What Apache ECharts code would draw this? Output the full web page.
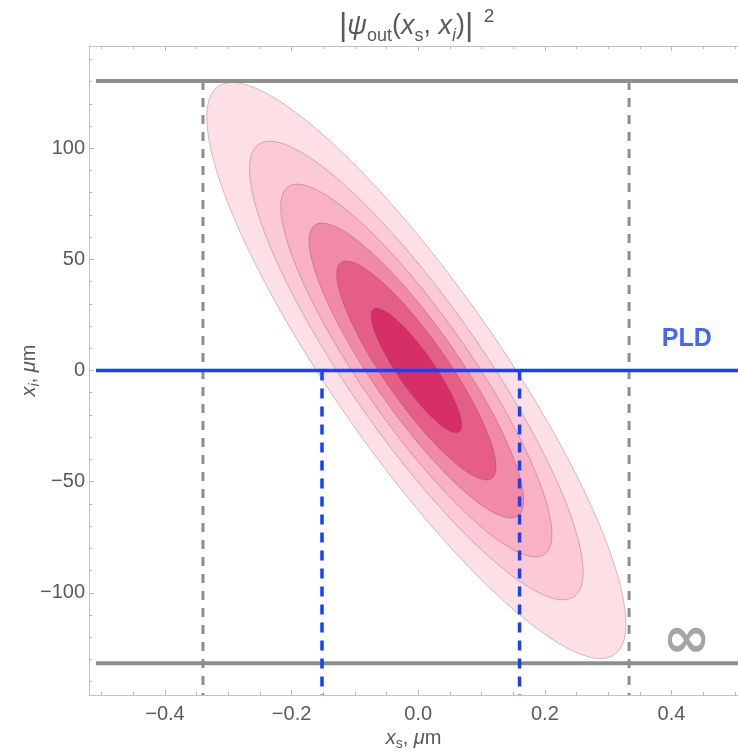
<!DOCTYPE html>
<html>
<head>
<meta charset="utf-8">
<script src="https://cdn.jsdelivr.net/npm/echarts@6.0.0/dist/echarts.min.js"></script>
<style>
  html, body { margin: 0; padding: 0; background: #fff; }
  #chart { width: 738px; height: 756px; }
</style>
</head>
<body>
<div id="chart"></div>
<script>
// axes
const xMin = -0.52, xMax = 0.505
const yMin = -146, yMax = 146
const xMajor = [-0.4, -0.2, 0, 0.2, 0.4]
const xMinor = [-0.5, -0.45, -0.35, -0.3, -0.25, -0.15, -0.1, -0.05, 0.05, 0.1, 0.15, 0.25, 0.3, 0.35, 0.45, 0.5]
const yMajor = [-100, -50, 0, 50, 100]
const yMinor = [-140, -130, -120, -110, -90, -80, -70, -60, -40, -30, -20, -10,
  10, 20, 30, 40, 60, 70, 80, 90, 110, 120, 130, 140]

// |psi_out|^2 contours: centre, outer contour extents (um),
// half-chord along x_i = 0, and the relative size of each nested contour
const centre = [-0.003, 0]
const outerHalfX = 0.331
const outerHalfY = 129.6
const outerChordX = 0.158
const contourScale = [1, 0.796, 0.647, 0.512, 0.38, 0.216]
const contourColors = ['#fde0e6', '#fccad6', '#f9b1c4', '#f08aa6', '#e45e88', '#d62f67']

// guide lines
const lineStartX = -0.509
const grayLineY = [130.3, -131.7]
const grayDashX = [-0.34, 0.333]
const pldY = 0
const pldDashX = [-0.152, 0.16]
const pldLabel = [0.424, 14]
const infLabel = [0.424, -122]

const gray = '#8e8e8e'
const blue = '#1440ff'
const textColor = '#5a5a5a'
const font = '"Liberation Sans", Arial, sans-serif'

const chart = echarts.init(document.getElementById('chart'))

const phase = Math.PI - Math.asin(outerChordX / outerHalfX)

function minusSign(v, digits) {
  const s = digits ? Math.abs(v).toFixed(digits) : String(Math.abs(v))
  return (v < 0 ? '\u2212' : '') + s
}

function xAxisOf(position, ticks, len, withLabels) {
  return {
    type: 'value', min: xMin, max: xMax, position: position,
    axisLine: { show: withLabels, onZero: false, lineStyle: { color: '#c2c2c2', width: 1 } },
    axisTick: { show: true, inside: true, length: len, customValues: ticks, lineStyle: { color: '#b8b8b8' } },
    axisLabel: withLabels ? {
      customValues: ticks, margin: 9, fontSize: 20, color: textColor, fontFamily: font,
      formatter: v => minusSign(v, 1)
    } : { show: false },
    splitLine: { show: false }
  }
}

function yAxisOf(position, ticks, len, withLabels) {
  return {
    type: 'value', min: yMin, max: yMax, position: position,
    axisLine: { show: withLabels, onZero: false, lineStyle: { color: '#c2c2c2', width: 1 } },
    axisTick: { show: true, inside: true, length: len, customValues: ticks, lineStyle: { color: '#b8b8b8' } },
    axisLabel: withLabels ? {
      customValues: ticks, margin: 4, fontSize: 20, color: textColor, fontFamily: font,
      formatter: v => minusSign(v, 0)
    } : { show: false },
    splitLine: { show: false }
  }
}

const nameRich = {
  i: { fontSize: 20, fontStyle: 'italic', color: textColor, lineHeight: 26 },
  n: { fontSize: 20, color: textColor, lineHeight: 26 },
  sub: { fontSize: 14, color: textColor, lineHeight: 14, verticalAlign: 'bottom' },
  subi: { fontSize: 14, fontStyle: 'italic', color: textColor, lineHeight: 14, verticalAlign: 'bottom' }
}

const xAxes = [
  xAxisOf('bottom', xMajor, 5, true),
  xAxisOf('bottom', xMinor, 3, false),
  xAxisOf('top', xMajor, 5, false),
  xAxisOf('top', xMinor, 3, false)
]
xAxes[2].axisLine.show = true
xAxes[0].name = '{i|x}{sub|s}{n|, }{i|\u03bc}{n|m}'
xAxes[0].nameLocation = 'middle'
xAxes[0].nameGap = 30
xAxes[0].nameMoveOverlap = false
xAxes[0].nameTextStyle = { color: textColor, fontFamily: font, rich: nameRich }

const yAxes = [
  yAxisOf('left', yMajor, 5, true),
  yAxisOf('left', yMinor, 3, false)
]
yAxes[0].name = '{i|x}{subi|i}{n|, }{i|\u03bc}{n|m}'
yAxes[0].nameLocation = 'middle'
yAxes[0].nameGap = 47
yAxes[0].nameRotate = 90
yAxes[0].nameMoveOverlap = false
yAxes[0].nameTextStyle = { color: textColor, fontFamily: font, rich: nameRich }

function segment(points, color, width, dash) {
  return {
    type: 'line', xAxisIndex: 0, yAxisIndex: 0, data: points, symbol: 'none', silent: true,
    lineStyle: { color: color, width: width, type: dash || 'solid', cap: 'butt' }
  }
}

const series = [{
  type: 'custom',
  xAxisIndex: 0, yAxisIndex: 0,
  silent: true,
  encode: { x: 0, y: 1 },
  data: contourScale.map(s => [centre[0], centre[1], s]),
  renderItem: function (params, api) {
    const s = api.value(2)
    const pts = []
    for (let k = 0; k <= 160; k++) {
      const t = 2 * Math.PI * k / 160
      pts.push(api.coord([
        centre[0] + s * outerHalfX * Math.cos(t),
        centre[1] + s * outerHalfY * Math.cos(t - phase)
      ]))
    }
    return {
      type: 'polygon',
      shape: { points: pts },
      style: { fill: contourColors[params.dataIndex], stroke: 'rgba(120,60,80,0.45)', lineWidth: 0.7 }
    }
  }
}]

grayLineY.forEach(y => series.push(segment([[lineStartX, y], [xMax, y]], gray, 4)))
grayDashX.forEach(x => series.push(segment([[x, grayLineY[0]], [x, yMin]], gray, 3, [9, 8])))
series.push(segment([[lineStartX, pldY], [xMax, pldY]], blue, 3.5))
pldDashX.forEach(x => series.push(segment([[x, pldY], [x, yMin]], blue, 3.5, [10, 8])))

series.push({
  type: 'scatter', xAxisIndex: 0, yAxisIndex: 0, silent: true, symbolSize: 0,
  data: [pldLabel],
  label: {
    show: true, position: 'inside', formatter: 'PLD', color: blue, textBorderWidth: 0,
    fontSize: 25, fontWeight: 'bold', fontFamily: font
  }
})
series.push({
  type: 'scatter', xAxisIndex: 0, yAxisIndex: 0, silent: true, symbolSize: 0,
  data: [infLabel],
  label: {
    show: true, position: 'inside', formatter: '\u221e', color: gray, textBorderWidth: 0,
    fontSize: 58, fontWeight: 'bold', fontFamily: '"DejaVu Sans", sans-serif'
  }
})

chart.setOption({
  animation: false,
  backgroundColor: '#fff',
  title: {
    text: '{b||}{i|\u03c8}{sub|out}{n|(}{i|x}{sub|s}{n|, }{i|x}{subi|i}{n|)}{b||}{sup|  2}',
    left: 334,
    top: 2,
    textStyle: {
      fontFamily: font,
      fontWeight: 'normal',
      rich: {
        b: { fontSize: 32, color: textColor, lineHeight: 38, fontWeight: 'normal' },
        i: { fontSize: 27, fontStyle: 'italic', color: textColor, lineHeight: 38, fontWeight: 'normal' },
        n: { fontSize: 27, color: textColor, lineHeight: 38, fontWeight: 'normal' },
        sub: { fontSize: 18, color: textColor, lineHeight: 17, verticalAlign: 'bottom', fontWeight: 'normal' },
        subi: { fontSize: 18, fontStyle: 'italic', color: textColor, lineHeight: 17, verticalAlign: 'bottom', fontWeight: 'normal' },
        sup: { fontSize: 19, color: textColor, lineHeight: 19, verticalAlign: 'top', fontWeight: 'normal' }
      }
    }
  },
  grid: { left: 89, right: 0, top: 46, bottom: 57 },
  xAxis: xAxes,
  yAxis: yAxes,
  series: series
})
</script>
</body>
</html>
